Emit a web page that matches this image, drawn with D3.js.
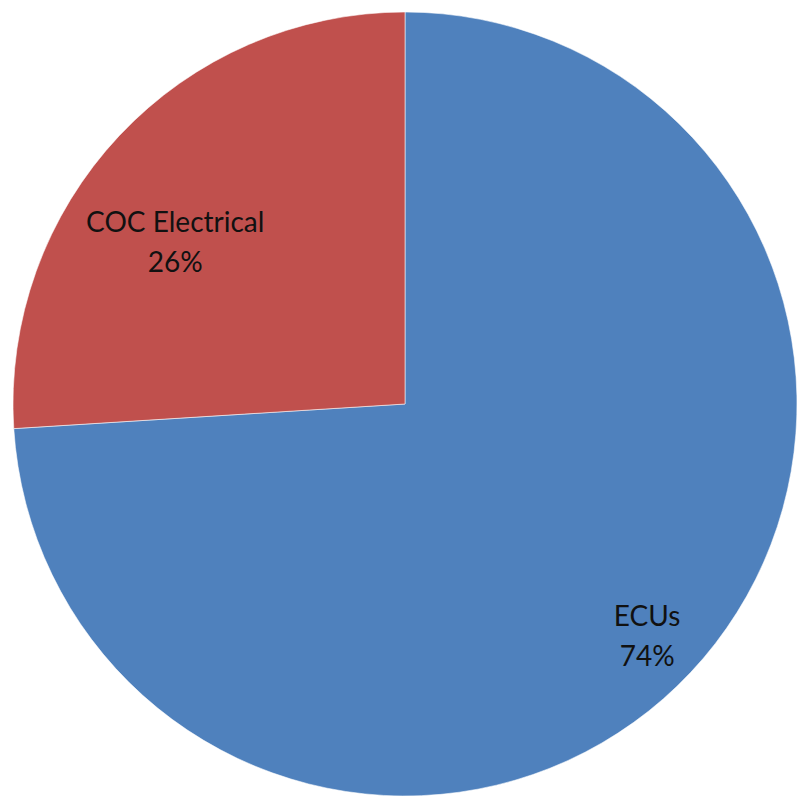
<!DOCTYPE html>
<html>
<head>
<meta charset="utf-8">
<script src="https://cdn.jsdelivr.net/npm/d3@7"></script>
<style>
  html, body { margin: 0; padding: 0; background: #fff; }
  svg { display: block; }
</style>
</head>
<body>
<svg id="chart" width="808" height="808"></svg>
<script>
// Share of items by category
const categories = ["ECUs", "COC Electrical"];
const shares = [74, 26];
const sliceColors = ["#4F81BD", "#C0504D"];

const width = 808, height = 808;
const cx = 405, cy = 404, radius = 392;

const svg = d3.select("#chart");
const g = svg.append("g").attr("transform", `translate(${cx},${cy})`);

const data = categories.map((c, i) => ({ name: c, value: shares[i], color: sliceColors[i] }));

const pie = d3.pie().sort(null).value(d => d.value);
const arcs = pie(data);

const arc = d3.arc().innerRadius(0).outerRadius(radius);

g.selectAll("path.slice")
  .data(arcs)
  .join("path")
  .attr("class", "slice")
  .attr("d", arc)
  .attr("fill", d => d.data.color)
  .attr("stroke", "rgba(255,255,255,0.55)")
  .attr("stroke-width", 1);

// Label placement: radius fraction and angular nudge (radians) per slice
const labelRadius = [0.874, 0.703];
const labelNudge = [0.032, -0.169];

const labels = g.selectAll("g.label")
  .data(arcs)
  .join("g")
  .attr("class", "label")
  .attr("transform", (d, i) => {
    const a = (d.startAngle + d.endAngle) / 2 + labelNudge[i];
    const r = radius * labelRadius[i];
    return `translate(${r * Math.sin(a)},${-r * Math.cos(a)})`;
  });

labels.append("text")
  .attr("text-anchor", "middle")
  .attr("y", -20)
  .style("font-family", "Lato, 'Open Sans', sans-serif")
  .style("font-size", "28px")
  .attr("fill", "#111")
  .text(d => d.data.name);

labels.append("text")
  .attr("text-anchor", "middle")
  .attr("y", 20)
  .style("font-family", "Lato, 'Open Sans', sans-serif")
  .style("font-size", "28px")
  .attr("fill", "#111")
  .text(d => d.data.value + "%");
</script>
</body>
</html>
